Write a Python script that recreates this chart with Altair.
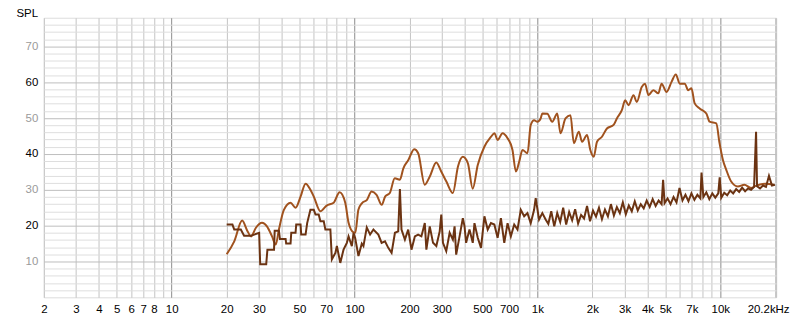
import altair as alt
import pandas as pd

# ---- data ----
smooth_freq = [20, 22.0, 24.3, 25.9, 27.2, 28.9, 31.2, 33.2, 35.4, 37.1, 38.6, 41.1, 44.7, 47.6, 50.7, 54.0,
               57.4, 59.9, 65.1, 70.4, 76.9, 82.9, 89.0, 92.8, 98.8, 101, 105, 110, 117, 124, 132, 141, 147,
               156, 166, 177, 185, 197, 212, 223, 242, 258, 280, 298, 318, 345, 368, 391, 417, 443, 472, 513,
               558, 582, 606, 645, 687, 731, 763, 796, 829, 883, 920, 960, 1000, 1042, 1065, 1133, 1206, 1284,
               1338, 1425, 1517, 1583, 1685, 1756, 1869, 1948, 2033, 2119, 2255, 2401, 2611, 2721, 2897, 3020,
               3151, 3354, 3495, 3722, 3879, 4047, 4307, 4585, 4778, 5087, 5416, 5716, 6009, 6397, 6676, 6957,
               7250, 7719, 8394, 8747, 9512, 9913, 10344, 10780, 11477, 12483, 13557, 14744, 15635, 17716, 19664]
smooth_spl = [12.0, 15.6, 21.4, 18.6, 17.0, 19.4, 20.8, 19.8, 17.0, 14.7, 18.9, 24.4, 26.4, 25.0, 28.1, 31.7,
              30.0, 28.1, 24.0, 25.6, 26.4, 29.3, 26.4, 20.8, 18.1, 18.0, 24.4, 26.3, 27.2, 29.5, 28.6, 25.8, 28.1,
              29.1, 33.2, 32.8, 36.0, 38.3, 41.3, 40.2, 31.4, 33.7, 37.6, 35.1, 32.3, 29.1, 36.5, 39.2, 37.4, 30.3,
              36.9, 42.0, 44.8, 45.8, 43.9, 45.8, 44.4, 41.1, 35.1, 37.9, 41.1, 40.2, 48.1, 49.4, 49.0, 49.9, 51.3,
              51.2, 49.0, 51.3, 45.8, 49.9, 50.8, 43.0, 46.2, 43.4, 45.3, 41.1, 39.2, 43.4, 44.8, 47.1, 48.1, 49.9,
              52.2, 55.0, 53.6, 56.4, 54.5, 58.7, 59.6, 56.4, 57.8, 56.9, 59.6, 57.3, 60.1, 62.2, 59.6, 59.6, 57.8,
              58.3, 54.1, 52.7, 51.3, 49.0, 48.5, 43.0, 38.3, 35.6, 32.3, 30.9, 31.4, 30.5, 31.1, 31.7, 31.4]

noise_freq = [20, 21.5, 22.0, 23.9, 24.9, 27.1, 28.3, 30.1, 30.5, 32.9, 33.4, 36.3, 36.6, 38.6, 39.1, 42.0,
              42.3, 44.7, 45.1, 47.6, 48.0, 50.7, 51.1, 54.0, 55.1, 57.4, 59.9, 61.2, 63.7, 65.1, 67.9, 69.3,
              73.8, 75.2, 78.6, 80.1, 83.6, 87.1, 90.8, 92.8, 96.7, 98.8, 100.9, 105.1, 109.6, 111.9, 116.7,
              121.7, 126.9, 135, 140.7, 146.8, 153, 159.5, 166.4, 173.4, 177.1, 180.7, 188.6, 196.6, 204.9,
              213.8, 222.7, 232.2, 242.3, 247.2, 257.9, 268.8, 280.2, 292.3, 298.2, 304.6, 317.5, 331.3, 345.1,
              352.6, 359.8, 375.4, 391.2, 399.6, 407.7, 425.4, 443.3, 452.9, 472, 491.9, 513.3, 535, 557.5,
              581.7, 606.2, 631.8, 659.2, 687.1, 716, 747.1, 778.6, 811.5, 846.8, 882.6, 919.7, 959.6, 979,
              1021.5, 1064.6, 1109.5, 1148, 1191, 1237, 1284, 1333, 1384, 1437, 1492, 1549, 1609, 1670, 1734,
              1800, 1869, 1941, 2015, 2092, 2172, 2255, 2342, 2431, 2524, 2621, 2721, 2825, 2933, 3045, 3162,
              3283, 3409, 3539, 3675, 3815, 3961, 4113, 4270, 4433, 4603, 4779, 4870, 4962, 5152, 5349, 5554,
              5766, 5987, 6216, 6454, 6701, 6957, 7223, 7500, 7787, 7900, 8085, 8394, 8716, 9049, 9395, 9755,
              9930, 10128, 10516, 10918, 11336, 11770, 12220, 12688, 13173, 13677, 14201, 14744, 15308, 15700,
              15894, 16502, 17133, 17789, 18470, 19177, 19910]
noise_spl = [20.3, 20.3, 18.9, 18.9, 17.2, 17.2, 17.5, 18.0, 9.2, 9.2, 13.3, 13.3, 18.6, 18.6, 16.3, 16.3,
             15.0, 15.0, 18.0, 18.0, 20.3, 20.3, 17.5, 17.5, 20.7, 24.4, 24.4, 23.1, 23.1, 21.2, 21.2, 18.9,
             18.9, 10.6, 12.4, 14.3, 9.6, 13.3, 15.2, 17.0, 14.3, 18.0, 16.5, 11.5, 15.0, 14.3, 19.5,
             17.5, 18.9, 17.5, 15.2, 15.6, 13.8, 12.4, 18.0, 18.4, 30.2, 18.9, 16.1, 18.9, 13.3,
             17.0, 17.5, 17.0, 20.7, 13.3, 19.8, 15.2, 14.3, 18.4, 23.1, 15.2, 12.9, 18.0, 16.1,
             19.8, 11.9, 17.0, 22.1, 19.8, 15.2, 18.9, 15.2, 20.7, 16.6, 13.8, 22.6, 18.9, 20.7,
             20.3, 16.6, 22.1, 15.2, 20.7, 17.0, 20.3, 18.9, 24.4, 22.6, 23.5, 20.7, 24.4, 27.7,
             21.7, 23.5, 21.7, 20.5, 24.0, 19.8, 23.5, 21.0, 25.0, 20.3, 23.8, 21.5, 24.6, 20.6, 23.0,
             22.0, 25.5, 21.2, 24.2, 22.5, 25.0, 21.8, 24.5, 22.6, 26.0, 22.8, 25.2, 23.5, 26.5, 23.2, 25.6,
             24.0, 26.8, 24.2, 26.0, 24.8, 27.0, 25.2, 27.4, 25.5, 27.0, 26.0, 32.8, 26.3, 27.6, 26.0, 28.0,
             26.5, 30.5, 27.0, 28.6, 26.8, 29.0, 27.2, 28.6, 27.6, 34.8, 28.0, 29.3, 27.4, 29.0, 27.8, 29.0,
             33.5, 27.8, 29.2, 28.5, 29.8, 29.0, 30.2, 29.4, 30.6, 29.6, 30.4, 30.0, 30.8, 46.2,
             31.0, 30.4, 31.2, 30.8, 33.9, 31.2, 31.4]

series_names = ["Measurement", "Noise"]
series_colors = ["#A0521E", "#6B3312"]

x_grid = [2, 3, 4, 5, 6, 7, 8, 9, 10, 20, 30, 40, 50, 60, 70, 80, 90, 100, 200, 300, 400, 500, 600, 700,
          800, 900, 1000, 2000, 3000, 4000, 5000, 6000, 7000, 8000, 9000, 10000, 20000, 20200]
x_labeled = [2, 3, 4, 5, 6, 7, 8, 10, 20, 30, 50, 70, 100, 200, 300, 500, 700, 1000, 2000, 3000, 4000,
             5000, 7000, 10000, 20200]
x_decades = [10, 100, 1000, 10000]
y_grid = list(range(2, 78, 2))

df_smooth = pd.DataFrame({"freq": smooth_freq, "spl": smooth_spl, "series": series_names[0]})
df_noise = pd.DataFrame({"freq": noise_freq, "spl": noise_spl, "series": series_names[1]})

lab_list = "[" + ",".join(str(v) for v in x_labeled) + "]"
dec_list = "[" + ",".join(str(v) for v in x_decades) + "]"
x_label_expr = (f"indexof({lab_list}, datum.value) < 0 ? '' : datum.value > 20000 ? '20.2kHz' : "
                "datum.value >= 1000 ? (datum.value / 1000) + 'k' : '' + datum.value")

FONT = "Liberation Sans"

x_axis = alt.Axis(
    values=x_grid, labelExpr=x_label_expr, ticks=False, domain=False, grid=True,
    gridColor={"condition": {"test": f"indexof({dec_list}, datum.value) >= 0", "value": "#8c8c8c"},
               "value": "#c4c4c4"},
    labelOffset={"condition": {"test": "datum.value > 20000", "value": -8}, "value": 0},
    labelFont=FONT, labelFontSize=11.5, labelColor="#000000", labelPadding=6,
    labelOverlap=False, labelFlush=False, title=None,
)
y_axis = alt.Axis(
    values=y_grid, labelExpr="datum.value % 10 == 0 ? datum.value : ''", ticks=False, domain=False,
    grid=True,
    gridColor={"condition": {"test": "datum.value % 10 == 0", "value": "#bdbdbd"}, "value": "#dedede"},
    labelColor={"condition": {"test": "datum.value % 20 == 0", "value": "#000000"}, "value": "#9a9a9a"},
    labelFont=FONT, labelFontSize=11.5, labelPadding=6, labelOverlap=False,
    title="SPL", titleAngle=0, titleX=-28, titleY=-1, titleAlign="left", titleBaseline="alphabetic",
    titleFont=FONT, titleFontSize=11.5, titleFontWeight="normal", titleColor="#000000",
)

x_enc = alt.X("freq:Q", scale=alt.Scale(type="log", domain=[2, 20200], nice=False), axis=x_axis)
y_enc = alt.Y("spl:Q", scale=alt.Scale(domain=[0, 78], nice=False, zero=False), axis=y_axis)
c_enc = alt.Color("series:N", scale=alt.Scale(domain=series_names, range=series_colors), legend=None)

smooth_layer = alt.Chart(df_smooth).mark_line(strokeWidth=2, interpolate="monotone").encode(
    x=x_enc, y=y_enc, color=c_enc, order=alt.Order("freq:Q"))
noise_layer = alt.Chart(df_noise).mark_line(strokeWidth=2, interpolate="linear").encode(
    x=x_enc, y=y_enc, color=c_enc, order=alt.Order("freq:Q"))

chart = alt.layer(smooth_layer, noise_layer).properties(
    width=736, height=281,
    autosize=alt.AutoSizeParams(type="none"),
    padding={"left": 36, "top": 9, "right": 16, "bottom": 20},
).configure_view(
    stroke="#a9a9a9", strokeWidth=2.5
).configure(background="#ffffff")

chart.save("out.html", embed_options={"renderer": "svg", "actions": False})
